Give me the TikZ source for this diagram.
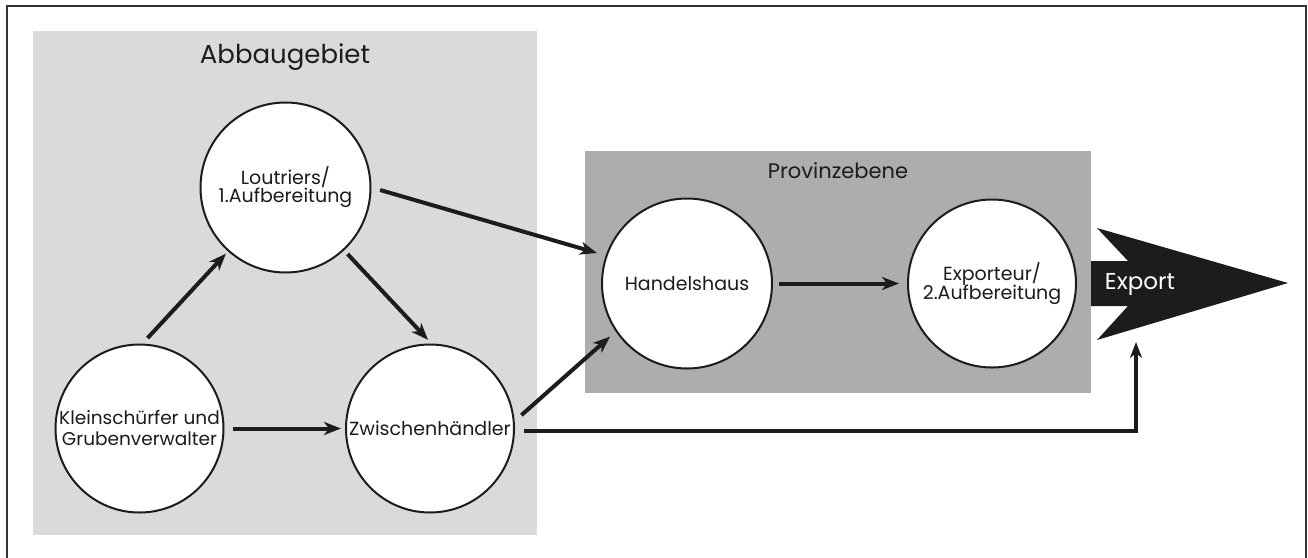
\documentclass[tikz,border=0pt]{standalone}
\usepackage{fontspec}
\setmainfont{Poppins}
\usetikzlibrary{arrows.meta,calc}
\definecolor{abbau}{HTML}{DADADA}
\definecolor{provinz}{HTML}{ADADAD}
\definecolor{ink}{HTML}{1C1C1C}
\definecolor{frame}{HTML}{333333}
\tikzset{
  station/.style={circle, draw=ink, line width=2pt, fill=white, minimum size=#1, inner sep=0pt, align=center, text=ink, font=\fontsize{19}{19}\selectfont},
  flow/.style={draw=ink, line width=4pt, -{Stealth[length=17pt,width=13pt,inset=5pt]}},
  route/.style={draw=ink, line width=3.5pt, -{Stealth[length=16pt,width=12pt,inset=5pt]}},
  areatitle/.style={anchor=base, text=ink, inner sep=0pt}
}
\begin{document}
\begin{tikzpicture}[x=1pt,y=-1pt]
\useasboundingbox (0,0) rectangle (1308,557);
\fill[white] (0,0) rectangle (1308,557);
% frame
\draw[frame, line width=1.5pt] (7,560) -- (7,6) -- (1306,6) -- (1306,560);
% areas
\fill[abbau] (33,31) rectangle (537,535);
\fill[provinz] (585,151) rectangle (1091,393);
\node[areatitle, font=\fontsize{26}{26}\selectfont] (tabbau) at (285,63) {Abbaugebiet};
\node[areatitle, font=\fontsize{21}{21}\selectfont] (tprov) at (838,178) {Provinzebene};
% export arrow
\fill[ink] (1091,261) -- (1128,261) -- (1097,228) -- (1288,283) -- (1097,340) -- (1128,306) -- (1091,306) -- cycle;
\node[anchor=base, text=white, inner sep=0pt, font=\fontsize{23}{23}\selectfont] (export) at (1140,289) {Export};
\coordinate (expin) at (1136,342);
% stations
\node[station=170pt] (lout) at (285.5,187.5) {Loutriers/\\[-1pt]1.Aufbereitung};
\node[station=168pt, font=\fontsize{18.5}{18.5}\selectfont] (klein) at (139.5,428.5) {Kleinschürfer und\\[2.5pt]Grubenverwalter};
\node[station=168pt] (zw) at (430,428.5) {Zwischenhändler};
\node[station=170pt] (handel) at (687,283.5) {Handelshaus};
\node[station=168pt] (exp) at (992,283.5) {Exporteur/\\[-1pt]2.Aufbereitung};
% connectors
\draw[flow, shorten <=7.5pt, shorten >=3pt] (klein.88) -- (lout.228);
\draw[flow, shorten <=5pt, shorten >=5pt] (lout.313) -- (zw.89);
\draw[flow, shorten <=8.5pt, shorten >=4pt] (klein.east) -- (zw.west);
\draw[flow, shorten <=9pt, shorten >=9pt] (lout.east) -- (handel.161);
\draw[flow, shorten <=9pt, shorten >=7.5pt] (zw.5) -- (handel.214);
\draw[flow, shorten <=6pt, shorten >=8pt] (handel.east) -- (exp.west);
\draw[route] ([xshift=9pt,yshift=-2.5pt]zw.east) -| (expin);
\end{tikzpicture}
\end{document}
